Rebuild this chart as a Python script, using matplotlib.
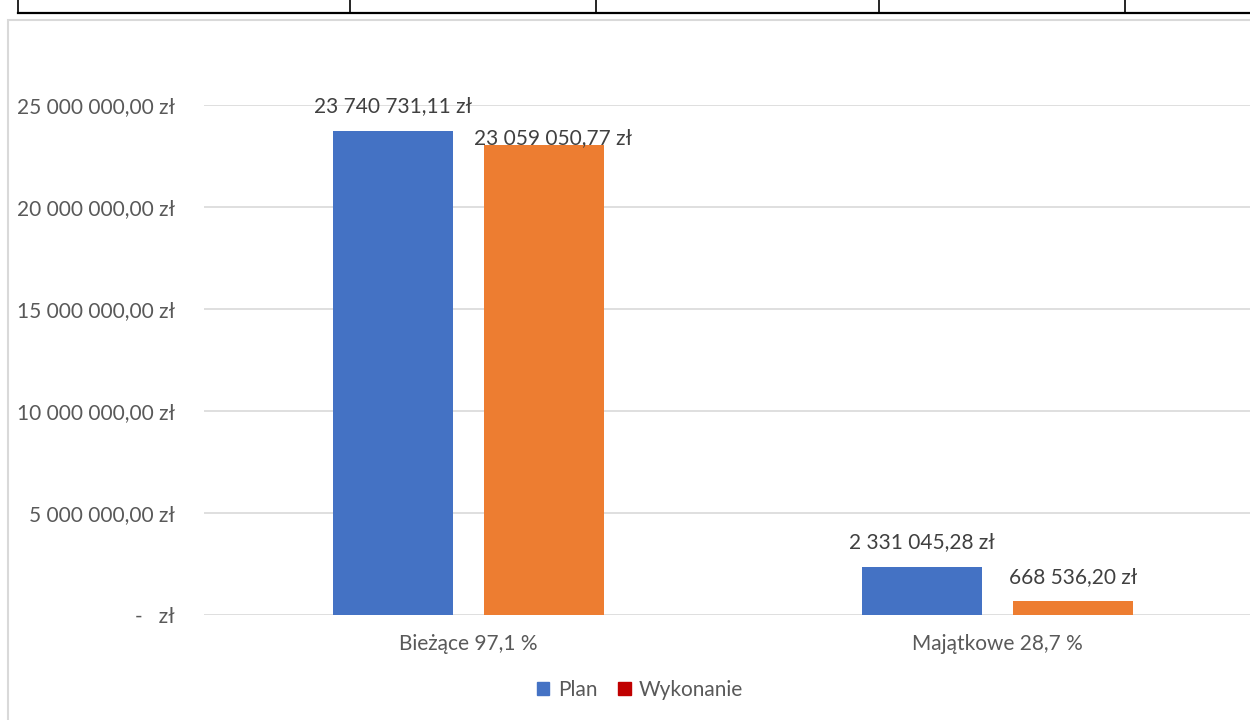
import matplotlib
matplotlib.use("Agg")
import matplotlib.pyplot as plt
from matplotlib.lines import Line2D
from matplotlib.patches import Rectangle, Patch

categories = ["Bieżące 97,1 %", "Majątkowe 28,7 %"]
plan = [23740731.11, 2331045.28]
wykonanie = [23059050.77, 668536.20]
series_names = ["Plan", "Wykonanie"]
yticks = [0, 5000000, 10000000, 15000000, 20000000, 25000000]

BLUE = "#4472C4"
ORANGE = "#ED7D31"
LEG_RED = "#C00000"
TXT = "#595959"
LBL = "#404040"
GRID = "#D9D9D9"
FS = 15

plt.rcParams['font.family'] = ['Lato', 'DejaVu Sans']


def fmt(v):
    if v == 0:
        return "-   zł"
    s = f"{v:,.2f}"
    s = s.replace(",", " ").replace(".", ",")
    return s + " zł"


W, H = 1250, 720
fig = plt.figure(figsize=(12.5, 7.2), dpi=100)

# document table lines at top
fig.add_artist(Line2D([18 / W, 1.0], [1 - 13 / H, 1 - 13 / H], color="black", lw=1.6))
for xv in [18, 350, 596, 879, 1125]:
    fig.add_artist(Line2D([xv / W, xv / W], [1.0, 1 - 13 / H], color="black", lw=1.2))
# chart border
fig.add_artist(Rectangle((8 / W, -0.1), 1.2, 1 - 20 / H + 0.1, transform=fig.transFigure,
                         fill=False, edgecolor=GRID, lw=1.5))

ax = fig.add_axes([204 / W, 1 - 615 / H, (1262 - 204) / W, (615 - 105) / H])
x = list(range(len(categories)))
bw = 0.225
off = 0.1427
ax.bar([i - off for i in x], plan, width=bw, color=BLUE, zorder=3)
ax.bar([i + off for i in x], wykonanie, width=bw, color=ORANGE, zorder=3)

ax.set_xlim(-0.5, 1.5)
ax.set_ylim(0, 25000000)
ax.set_yticks(yticks)
ax.set_yticklabels([fmt(v) for v in yticks], fontsize=FS, color=TXT)
ax.set_xticks(x)
ax.set_xticklabels(categories, fontsize=FS, color=TXT)
ax.tick_params(axis='both', length=0)
ax.tick_params(axis='y', pad=21)
ax.tick_params(axis='x', pad=14)
ax.grid(axis='y', color=GRID, lw=1.2, zorder=0)
for sp in ax.spines.values():
    sp.set_visible(False)

for i, v in enumerate(plan):
    ax.annotate(fmt(v), xy=(i - off, v), xytext=(0, 25), textcoords='offset pixels',
                ha='center', va='center', fontsize=FS, color=LBL, zorder=4)
for i, v in enumerate(wykonanie):
    dx, dy = (9, 7) if i == 0 else (0, 24)
    ax.annotate(fmt(v), xy=(i + off, v), xytext=(dx, dy), textcoords='offset pixels',
                ha='center', va='center', fontsize=FS, color=LBL, zorder=4)

handles = [Patch(color=BLUE), Patch(color=LEG_RED)]
fig.legend(handles, series_names, loc='center', bbox_to_anchor=(640 / W, 1 - 690 / H),
           ncol=2, frameon=False, fontsize=FS, labelcolor=TXT,
           handlelength=0.6, handleheight=0.6, handletextpad=0.4, columnspacing=1.0)

fig.savefig("out.png", dpi=100)
